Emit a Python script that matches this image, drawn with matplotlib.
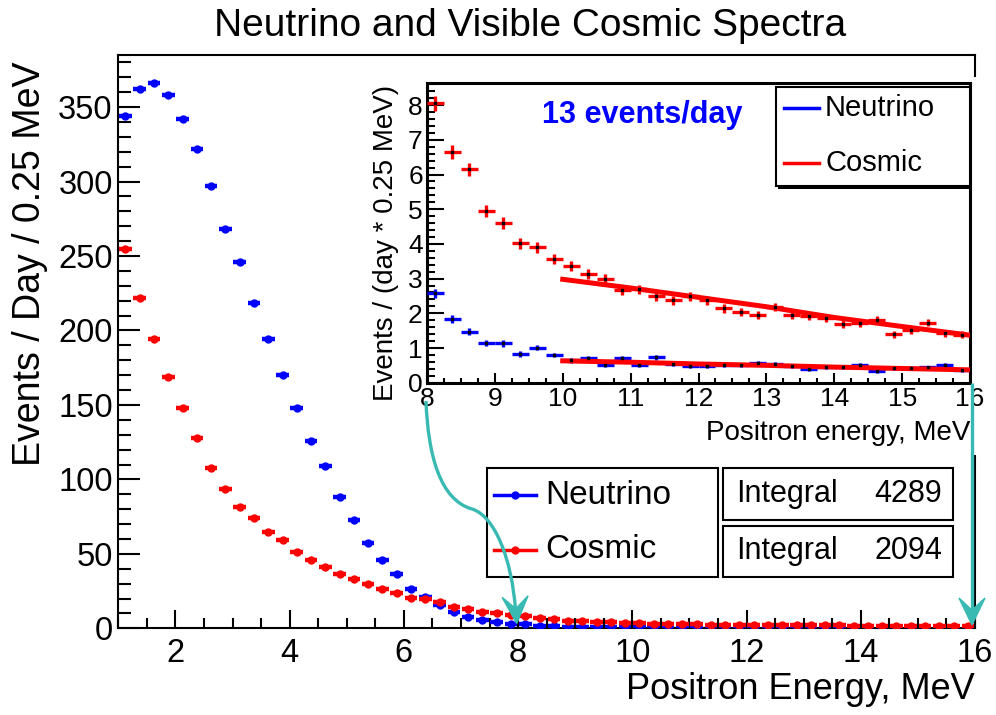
import matplotlib
matplotlib.use("Agg")
import matplotlib.pyplot as plt
from matplotlib.patches import Rectangle, Polygon, PathPatch
from matplotlib.path import Path
from matplotlib.lines import Line2D
from matplotlib.ticker import MultipleLocator
import numpy as np

plt.rcParams["font.family"] = ["Liberation Sans", "DejaVu Sans"]

# ===== data: events / day / 0.25 MeV, bins 1..16 MeV =====
bin_lo, bin_hi, bin_w = 1.0, 16.0, 0.25
energy = np.arange(bin_lo + bin_w / 2, bin_hi, bin_w)

neutrino = [344, 362, 366, 358, 342, 322, 297, 268, 246, 218.7,
            194, 170, 148, 126, 109, 88.4, 72.8, 57.5, 45.9, 36.5,
            26.6, 20.8, 15.4, 10.9, 7.8, 5.6, 4.2, 2.9,
            2.58, 1.83, 1.47, 1.15, 1.13, 0.83, 1.01, 0.80,
            0.65, 0.70, 0.51, 0.70, 0.51, 0.73, 0.55, 0.48,
            0.48, 0.50, 0.50, 0.57, 0.55, 0.48, 0.40, 0.44,
            0.45, 0.50, 0.34, 0.41, 0.41, 0.44, 0.50, 0.36]
cosmic = [255, 221.5, 194, 169, 148, 127.8, 107.9, 93.6, 81.7, 74.3,
          64.9, 59.1, 51.5, 45.9, 41.4, 36.5, 33.1, 29.8, 26.6, 23.9,
          20.6, 20.0, 17.5, 14.5, 12.7, 11.2, 10.1, 8.7,
          8.05, 6.65, 6.15, 4.95, 4.60, 4.02, 3.90, 3.57,
          3.37, 3.14, 2.99, 2.67, 2.70, 2.49, 2.37, 2.49,
          2.37, 2.14, 2.03, 1.96, 2.18, 1.96, 1.93, 1.86,
          1.69, 1.71, 1.82, 1.39, 1.51, 1.73, 1.42, 1.38]

# statistical errors of the 8-16 MeV zoom
neutrino_err = [0.13, 0.11, 0.10, 0.09, 0.09, 0.08, 0.08, 0.07,
                0.07, 0.07, 0.06, 0.07, 0.06, 0.07, 0.06, 0.06,
                0.06, 0.06, 0.06, 0.06, 0.06, 0.06, 0.05, 0.05,
                0.05, 0.06, 0.05, 0.05, 0.05, 0.05, 0.06, 0.05]
cosmic_err = [0.22, 0.20, 0.19, 0.17, 0.17, 0.16, 0.16, 0.15,
              0.15, 0.14, 0.14, 0.13, 0.13, 0.13, 0.13, 0.13,
              0.13, 0.12, 0.12, 0.12, 0.12, 0.12, 0.12, 0.11,
              0.11, 0.11, 0.11, 0.10, 0.10, 0.11, 0.10, 0.10]

# fitted curves over 10-16 MeV
fit_x = [10, 11, 12, 13, 14, 15, 16]
cosmic_fit = [2.98, 2.73, 2.46, 2.19, 1.88, 1.62, 1.37]
neutrino_fit = [0.63, 0.59, 0.54, 0.50, 0.45, 0.41, 0.37]

zoom_from = 8.0

W, H = 996, 715
teal = "#38bab2"

energy = np.asarray(energy)
neutrino = np.asarray(neutrino)
cosmic = np.asarray(cosmic)


def fx(x):
    return x / W


def fy(y):
    return 1 - y / H


fig = plt.figure(figsize=(W / 100, H / 100), dpi=100)

# ===== main spectrum =====
ax = fig.add_axes([fx(118.3), fy(628.3), (975 - 118.3) / W, (628.3 - 55) / H])
ax.errorbar(energy, neutrino, xerr=0.11, fmt="o", color="blue", ms=5,
            elinewidth=3.2, capsize=0, zorder=3)
ax.errorbar(energy, cosmic, xerr=0.11, fmt="o", color="red", ms=5,
            elinewidth=3.2, capsize=0, zorder=4)
ax.set_xlim(bin_lo, bin_hi)
ax.set_ylim(0, 385)
ax.set_xticks(range(2, 17, 2))
ax.xaxis.set_minor_locator(MultipleLocator(0.5))
ax.yaxis.set_major_locator(MultipleLocator(50))
ax.yaxis.set_minor_locator(MultipleLocator(10))
ax.tick_params(which="both", direction="in", width=1.5, labelsize=23.5, pad=4)
ax.tick_params(axis="x", which="major", length=13, pad=7)
ax.tick_params(axis="x", which="minor", length=7)
ax.tick_params(axis="y", which="major", length=16)
ax.tick_params(axis="y", which="minor", length=9)
for s in ax.spines.values():
    s.set_linewidth(1.5)
ax.set_xlabel("Positron Energy, MeV", fontsize=26, loc="right")
ax.xaxis.set_label_coords(1.0, -0.076)
ax.set_ylabel("Events / Day / 0.25 MeV", fontsize=27, loc="top")
ax.yaxis.set_label_coords(-0.082, 0.988)

fig.text(fx(530), fy(26), "Neutrino and Visible Cosmic Spectra",
         ha="center", va="center", fontsize=28)

# white pad behind the zoomed view
pad = fig.add_axes([fx(365), fy(455), 615 / W, 378 / H])
pad.set_xticks([])
pad.set_yticks([])
for s in pad.spines.values():
    s.set_visible(False)

# ===== 8-16 MeV zoom =====
ins = fig.add_axes([fx(427), fy(382.7), 543 / W, 299.4 / H])
sel = energy > zoom_from
ins.errorbar(energy[sel], neutrino[sel], xerr=bin_w / 2, yerr=neutrino_err,
             fmt="none", ecolor="blue", elinewidth=2.4, capsize=0, zorder=3)
ins.errorbar(energy[sel], cosmic[sel], xerr=bin_w / 2, yerr=cosmic_err,
             fmt="none", ecolor="red", elinewidth=2.4, capsize=0, zorder=3)
ins.plot(fit_x, cosmic_fit, color="red", lw=3.6, zorder=4)
ins.plot(fit_x, neutrino_fit, color="red", lw=3.6, zorder=4)
ins.plot(energy[sel], neutrino[sel], "s", color="black", ms=2, zorder=5)
ins.plot(energy[sel], cosmic[sel], "s", color="black", ms=2, zorder=5)
ins.set_xlim(zoom_from, bin_hi)
ins.set_ylim(0, 8.63)
ins.xaxis.set_major_locator(MultipleLocator(1))
ins.xaxis.set_minor_locator(MultipleLocator(0.25))
ins.yaxis.set_major_locator(MultipleLocator(1))
ins.yaxis.set_minor_locator(MultipleLocator(0.2))
ins.tick_params(which="both", direction="in", width=1.5, labelsize=19, pad=3)
ins.tick_params(axis="x", which="major", length=7)
ins.tick_params(axis="x", which="minor", length=3.5)
ins.tick_params(axis="y", which="major", length=12)
ins.tick_params(axis="y", which="minor", length=6)
for s in ins.spines.values():
    s.set_linewidth(2.2)
ins.set_xlabel("Positron energy, MeV", fontsize=20, loc="right")
ins.xaxis.set_label_coords(1.0, -0.125)
ins.set_ylabel("Events / (day * 0.25 MeV)", fontsize=20, loc="top")
ins.yaxis.set_label_coords(-0.052, 0.995)
ins.text(0.396, 0.894, "13 events/day", transform=ins.transAxes,
         ha="center", va="center", fontsize=22, fontweight="bold", color="blue")


# ===== boxes, legends and arrows in figure pixels =====
def box(x0, y0, x1, y1, lw=1.5, shadow=False):
    w, h = (x1 - x0) / W, (y1 - y0) / H
    if shadow:
        fig.add_artist(Rectangle((fx(x0 + 2), fy(y1 + 3)), w, h, facecolor="black",
                                 lw=0, transform=fig.transFigure, zorder=5))
    fig.add_artist(Rectangle((fx(x0), fy(y1)), w, h, facecolor="white",
                             edgecolor="black", lw=lw, transform=fig.transFigure,
                             zorder=6))


def legend_row(x0, x1, y, color, label, fs, marker, tx):
    xs = [fx(x0), fx((x0 + x1) / 2), fx(x1)]
    fig.add_artist(Line2D(xs, [fy(y)] * 3, color=color, lw=2.5,
                          marker=marker, ms=5, markevery=[1],
                          transform=fig.transFigure, zorder=7))
    fig.text(fx(tx), fy(y), label, ha="left", va="center", fontsize=fs, zorder=7)


# main legend + integrals
box(487, 468, 717.5, 576.7)
legend_row(494, 536, 495, "blue", "Neutrino", 24, "o", 545)
legend_row(494, 536, 550, "red", "Cosmic", 24, "o", 545)
for (y0, y1), vals in zip([(468, 520), (526, 576.7)], [neutrino, cosmic]):
    box(723, y0, 953, y1)
    yc = (y0 + y1) / 2
    fig.text(fx(736), fy(yc), "Integral", ha="left", va="center", fontsize=22, zorder=7)
    fig.text(fx(942), fy(yc), f"{np.sum(vals):.0f}", ha="right", va="center",
             fontsize=22, zorder=7)

# zoom legend
box(776, 86.7, 970, 186, lw=1.5, shadow=True)
legend_row(784, 819, 108, "blue", "Neutrino", 21, None, 825)
legend_row(784, 819, 163, "red", "Cosmic", 21, None, 825)


def arrow(verts, codes, tip, d, L=27, wd=26, notch=0.55):
    pts = [(fx(x), fy(y)) for x, y in verts]
    fig.add_artist(PathPatch(Path(pts, codes), fill=False, edgecolor=teal, lw=2.4,
                             transform=fig.transFigure, zorder=8))
    tip = np.array(tip, float)
    d = np.array(d, float)
    d /= np.linalg.norm(d)
    n = np.array([-d[1], d[0]])
    head = [tip, tip - L * d + wd / 2 * n, tip - notch * L * d, tip - L * d - wd / 2 * n]
    fig.add_artist(Polygon([(fx(p[0]), fy(p[1])) for p in head], closed=True,
                           facecolor=teal, edgecolor=teal, lw=1,
                           transform=fig.transFigure, zorder=8))


C4 = Path.CURVE4
arrow([(426, 401), (428, 455), (440, 500), (472, 509),
       (495, 516), (512, 560), (515.5, 610)],
      [Path.MOVETO, C4, C4, C4, C4, C4, C4],
      tip=(516.7, 623.5), d=(0.06, 1))
arrow([(972, 383), (972, 612)], [Path.MOVETO, Path.LINETO],
      tip=(972, 625), d=(0, 1))

fig.savefig("out.png", dpi=100)
